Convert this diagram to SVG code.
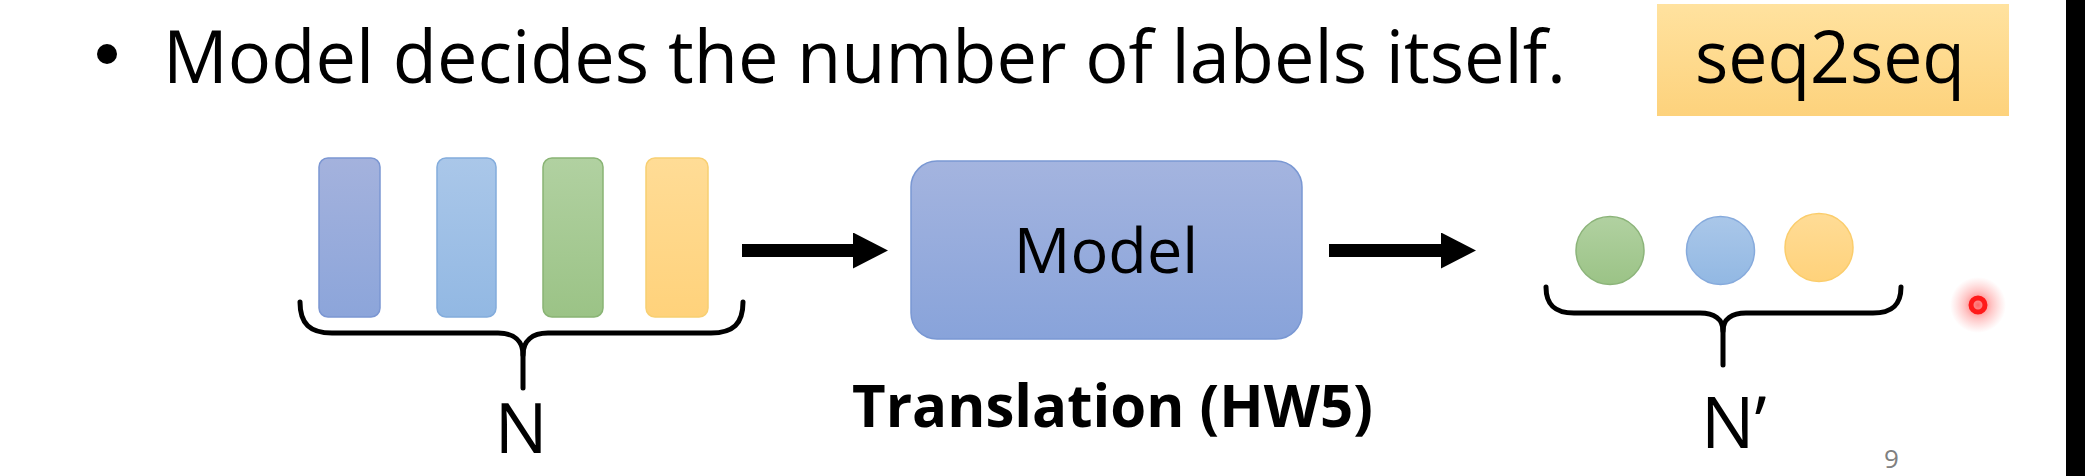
<svg xmlns="http://www.w3.org/2000/svg" width="2085" height="476" viewBox="0 0 2085 476">
  <style>
    .txt { font-family: "Open Sans", "Liberation Sans", sans-serif; fill: #000; }
    .bold { font-weight: bold; }
    .brace { fill: none; stroke: #000; stroke-width: 5; stroke-linecap: round; stroke-linejoin: round; }
    .arrow { stroke: #000; stroke-width: 13; fill: none; }
    .tok { stroke-width: 1.5; }
  </style>
  <defs>
    <linearGradient id="gPurple" x1="0" y1="0" x2="0" y2="1"><stop offset="0" stop-color="#a4b2dd"/><stop offset="1" stop-color="#8ca5da"/></linearGradient>
    <linearGradient id="gBlue" x1="0" y1="0" x2="0" y2="1"><stop offset="0" stop-color="#aac7e9"/><stop offset="1" stop-color="#92b8e3"/></linearGradient>
    <linearGradient id="gGreen" x1="0" y1="0" x2="0" y2="1"><stop offset="0" stop-color="#b1d1a1"/><stop offset="1" stop-color="#9bc386"/></linearGradient>
    <linearGradient id="gYellow" x1="0" y1="0" x2="0" y2="1"><stop offset="0" stop-color="#ffdc96"/><stop offset="1" stop-color="#ffd27b"/></linearGradient>
    <linearGradient id="gModel" x1="0" y1="0" x2="0" y2="1"><stop offset="0" stop-color="#a4b4df"/><stop offset="1" stop-color="#88a3da"/></linearGradient>
    <linearGradient id="gTag" x1="0" y1="0" x2="0" y2="1"><stop offset="0" stop-color="#ffe29f"/><stop offset="1" stop-color="#fdd27c"/></linearGradient>
    <radialGradient id="gGlow">
      <stop offset="0" stop-color="#ff2020" stop-opacity="0.7"/>
      <stop offset="0.5" stop-color="#ff4040" stop-opacity="0.3"/>
      <stop offset="1" stop-color="#ff6060" stop-opacity="0"/>
    </radialGradient>
    <marker id="head" markerUnits="userSpaceOnUse" viewBox="0 -18 35 36" refX="1" refY="0" markerWidth="35" markerHeight="36" orient="auto">
      <path d="M0,-18 L35,0 L0,18 Z" fill="#000"/>
    </marker>
  </defs>

  <rect x="0" y="0" width="2085" height="476" fill="#ffffff"/>
  <rect x="2066" y="0" width="19" height="476" fill="#000000"/>

  <g id="title">
    <circle cx="107" cy="54" r="10" fill="#000"/>
    <text class="txt" x="163" y="83" font-size="74" textLength="1403" lengthAdjust="spacingAndGlyphs">Model decides the number of labels itself.</text>
  </g>

  <g id="tag-seq2seq">
    <rect x="1657" y="4" width="352" height="112" fill="url(#gTag)"/>
    <text class="txt" x="1695" y="83" font-size="73" textLength="270" lengthAdjust="spacingAndGlyphs">seq2seq</text>
  </g>

  <g id="input-sequence">
    <rect class="tok" x="319" y="158" width="61" height="159" rx="9" fill="url(#gPurple)" stroke="#7b96d2"/>
    <rect class="tok" x="437" y="158" width="59" height="159" rx="9" fill="url(#gBlue)" stroke="#83acdc"/>
    <rect class="tok" x="543" y="158" width="60" height="159" rx="9" fill="url(#gGreen)" stroke="#89b474"/>
    <rect class="tok" x="646" y="158" width="62" height="159" rx="9" fill="url(#gYellow)" stroke="#f8cf72"/>
    <path class="brace" d="M300,302 C300,324 310,333 332,333 L498,333 C514,333 523,341 523,355 C523,341 532,333 548,333 L711,333 C733,333 743,324 743,302"/>
    <path class="brace" d="M523,352 L523,388"/>
    <text class="txt" x="521" y="453" font-size="70" text-anchor="middle">N</text>
  </g>

  <g id="model">
    <rect x="911" y="161" width="391" height="178" rx="26" fill="url(#gModel)" stroke="#7a98d3" stroke-width="1.5"/>
    <text class="txt" x="1106" y="273" font-size="63" text-anchor="middle">Model</text>
    <text class="txt bold" x="852" y="427" font-size="59" textLength="521" lengthAdjust="spacingAndGlyphs">Translation (HW5)</text>
  </g>

  <g id="output-sequence">
    <circle class="tok" cx="1610" cy="250.5" r="34" fill="url(#gGreen)" stroke="#8cb47a"/>
    <circle class="tok" cx="1720.5" cy="250.5" r="34" fill="url(#gBlue)" stroke="#86aadc"/>
    <circle class="tok" cx="1819" cy="247.5" r="34" fill="url(#gYellow)" stroke="#fbcd6c"/>
    <path class="brace" d="M1546,287 C1546,305 1555,313 1574,313 L1700,313 C1714,313 1723,319 1723,331 C1723,319 1732,313 1746,313 L1873,313 C1892,313 1901,305 1901,287"/>
    <path class="brace" d="M1723,328 L1723,365"/>
    <text class="txt" x="1701" y="448" font-size="71">N’</text>
  </g>

  <g id="connectors">
    <line class="arrow" x1="742" y1="250.5" x2="854" y2="250.5" marker-end="url(#head)"/>
    <line class="arrow" x1="1329" y1="250.5" x2="1442" y2="250.5" marker-end="url(#head)"/>
  </g>

  <g id="page-number">
    <text class="txt" x="1884" y="468" font-size="26" style="fill:#808080">9</text>
  </g>

  <g id="pointer">
    <circle cx="1978" cy="305" r="28" fill="url(#gGlow)"/>
    <circle cx="1978" cy="305" r="7" fill="none" stroke="#ff1a1a" stroke-width="5"/>
  </g>
</svg>
